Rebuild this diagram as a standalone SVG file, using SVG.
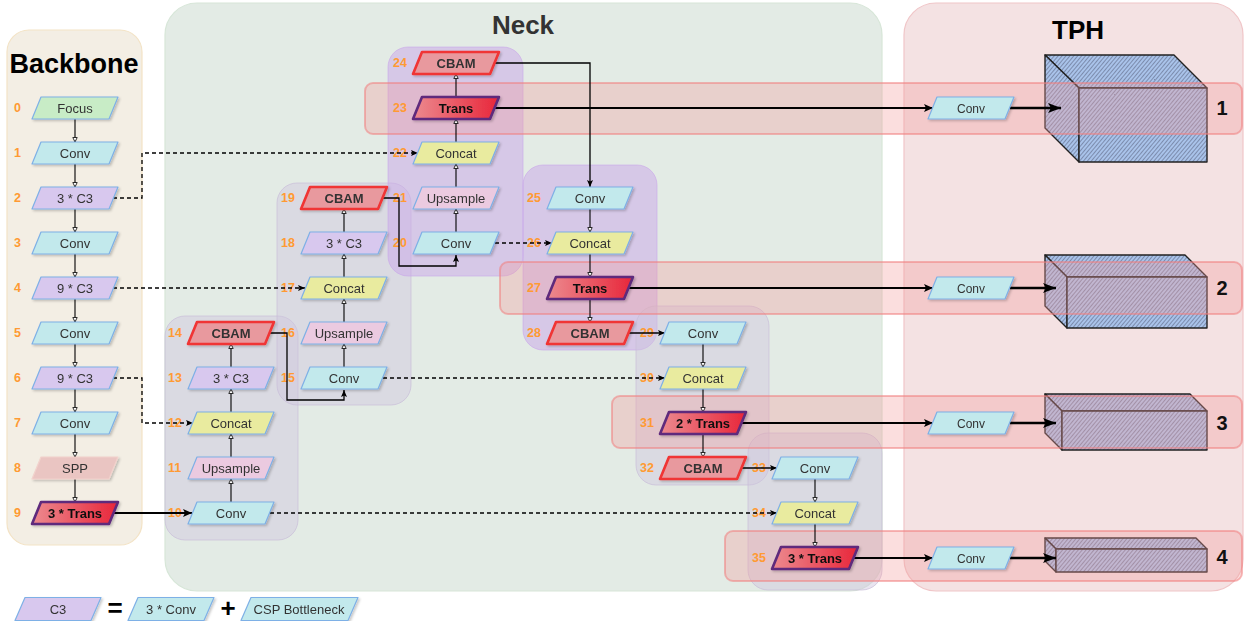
<svg xmlns="http://www.w3.org/2000/svg" xmlns:xlink="http://www.w3.org/1999/xlink" width="1244" height="621" viewBox="0 0 1244 621">
<defs>
<style>
text{font-family:"Liberation Sans",Arial,sans-serif}
.t{font-size:13px;fill:#333;text-anchor:middle}
.ts{font-size:12px;fill:#333;text-anchor:middle}
.tb{font-size:13px;font-weight:bold;fill:#333;text-anchor:middle}
.tt{font-size:13px;font-weight:bold;fill:#111;text-anchor:middle}
.num{font-size:12.5px;font-weight:bold;fill:#ff9a33}
.title{font-weight:bold;text-anchor:middle}
.hd{font-size:20px;font-weight:bold;fill:#111;text-anchor:middle}
.nd{filter:url(#sh)}
.conv{fill:#c2e9ec;stroke:#7eb0e6;stroke-width:1.2}
.cat{fill:#e9eb9f;stroke:#7eb0e6;stroke-width:1.2}
.c3{fill:#d8c8ee;stroke:#7eb0e6;stroke-width:1.2}
.up{fill:#ebcae0;stroke:#7eb0e6;stroke-width:1.2}
.focus{fill:#c8ecc6;stroke:#7eb0e6;stroke-width:1.2}
.spp{fill:#eac5c2;stroke:#f2d2cc;stroke-width:1.2}
.cbam{fill:#e8999e;stroke:#f03434;stroke-width:2.6}
.trans{fill:url(#tg);stroke:#5e2a7c;stroke-width:2.6}
.ln{stroke:#000;stroke-width:1.1;fill:none;marker-end:url(#as)}
.lp{stroke:#000;stroke-width:1.3;fill:none;marker-end:url(#ad)}
.ds{stroke:#000;stroke-width:1.3;fill:none;stroke-dasharray:4 3;marker-end:url(#ad)}
.tk{stroke:#000;stroke-width:2;fill:none;marker-end:url(#ab)}
.tk2{stroke:#000;stroke-width:2.6;fill:none;marker-end:url(#ab2)}
.grp{fill:#cfc5dd;fill-opacity:.45;stroke:#c9bdd9;stroke-opacity:.7}
.pgrp{fill:#c9a6ea;fill-opacity:.5;stroke:#c9a6ea;stroke-opacity:.6}
.band{fill:#f29a9a;fill-opacity:.33;stroke:#f07f7f;stroke-opacity:.55;stroke-width:2}
.cube{fill:url(#hatch);stroke:#222;stroke-width:1.4;stroke-linejoin:round}
</style>
<path id="pg" d="M-34,-11 H43 L34,11 H-43 Z" stroke-linejoin="round"/>
<path id="pl" d="M-33,-11.5 H43 L33,11.5 H-43 Z" stroke-linejoin="round"/>
<path id="plw" d="M-48,-11.5 H59 L49,11.5 H-58 Z" stroke-linejoin="round"/>
<linearGradient id="tg" x1="0" x2="1" y1="0" y2="0"><stop offset="0" stop-color="#ec8a8f"/><stop offset="1" stop-color="#e8263a"/></linearGradient>
<pattern id="hatch" width="3" height="3" patternUnits="userSpaceOnUse" patternTransform="rotate(40)"><rect width="3" height="3" fill="#a9c3ea"/><line x1="0.5" y1="0" x2="0.5" y2="3" stroke="#66728f" stroke-width="0.9" stroke-opacity="0.75"/></pattern>
<filter id="sh" x="-10%" y="-20%" width="130%" height="160%"><feDropShadow dx="1.5" dy="1.5" stdDeviation="1" flood-color="#000" flood-opacity="0.22"/></filter>
<marker id="as" markerUnits="userSpaceOnUse" markerWidth="6" markerHeight="6" refX="5" refY="3" orient="auto"><path d="M0.5,0.8 L5,3 L0.5,5.2 Z" fill="#fff" stroke="#000" stroke-width="0.8"/></marker>
<marker id="ad" markerUnits="userSpaceOnUse" markerWidth="8" markerHeight="8" refX="7" refY="4" orient="auto"><path d="M0,1 L7,4 L0,7 L1.5,4 Z" fill="#000"/></marker>
<marker id="ab" markerUnits="userSpaceOnUse" markerWidth="10" markerHeight="10" refX="9" refY="5" orient="auto"><path d="M0,1 L9,5 L0,9 L2,5 Z" fill="#000"/></marker>
<marker id="ab2" markerUnits="userSpaceOnUse" markerWidth="14" markerHeight="12" refX="13" refY="6" orient="auto"><path d="M0,1 L13,6 L0,11 L3,6 Z" fill="#000"/></marker>
</defs>
<rect width="1244" height="621" fill="#fff"/>

<g id="panels">
<rect x="7" y="30" width="135" height="515" rx="22" fill="#f3eee4" stroke="#f3e3c6" stroke-width="1.2"/>
<rect x="165" y="3" width="717" height="588" rx="32" fill="#e3ebe5" stroke="#d7e6d8" stroke-width="1.2"/>
<rect x="904" y="3" width="339" height="588" rx="32" fill="#f4e2e3" stroke="#f0c6c8" stroke-width="1.2"/>
<text class="title" x="74" y="73" font-size="27" fill="#000">Backbone</text>
<text class="title" x="523" y="34" font-size="26" fill="#333">Neck</text>
<text class="title" x="1078" y="39" font-size="26" fill="#000">TPH</text>
</g>

<g id="groups">
<rect class="grp" x="165" y="316" width="133" height="224" rx="20"/>
<rect class="grp" x="277" y="183" width="134" height="222" rx="20"/>
<rect class="pgrp" x="388" y="47" width="135" height="229" rx="20"/>
<rect class="pgrp" x="523" y="165" width="134" height="185" rx="20"/>
<rect class="grp" x="636" y="306" width="133" height="179" rx="20"/>
<rect class="grp" x="748" y="433" width="134" height="157" rx="20"/>
</g>

<g id="cubes">
<g id="cube1"><polygon class="cube" points="1045,55 1174,55 1207,88 1079,88"/><polygon class="cube" points="1045,55 1079,88 1079,162 1045,128"/><rect class="cube" x="1079" y="88" width="128" height="74"/></g>
<g id="cube2"><polygon class="cube" points="1045,255 1185,255 1207,277 1067,277"/><polygon class="cube" points="1045,255 1067,277 1067,328 1045,306"/><rect class="cube" x="1067" y="277" width="140" height="51"/></g>
<g id="cube3"><polygon class="cube" points="1045,394 1190,394 1207,411 1062,411"/><polygon class="cube" points="1045,394 1062,411 1062,450 1045,433"/><rect class="cube" x="1062" y="411" width="145" height="39"/></g>
<g id="cube4"><polygon class="cube" points="1045,538 1196,538 1207,549 1056,549"/><polygon class="cube" points="1045,538 1056,549 1056,572 1045,561"/><rect class="cube" x="1056" y="549" width="151" height="23"/></g>
</g>

<g id="bands">
<rect class="band" x="365" y="83" width="877" height="51" rx="8"/>
<rect class="band" x="500" y="262" width="742" height="52" rx="8"/>
<rect class="band" x="612" y="396" width="630" height="52" rx="8"/>
<rect class="band" x="725" y="531" width="517" height="50" rx="8"/>
<text class="hd" x="1222" y="115">1</text>
<text class="hd" x="1222" y="295">2</text>
<text class="hd" x="1222" y="430">3</text>
<text class="hd" x="1222" y="564">4</text>
</g>

<g id="labels">
<text class="num" x="14" y="112">0</text>
<text class="num" x="14" y="157">1</text>
<text class="num" x="14" y="202">2</text>
<text class="num" x="14" y="247">3</text>
<text class="num" x="14" y="292">4</text>
<text class="num" x="14" y="337">5</text>
<text class="num" x="14" y="382">6</text>
<text class="num" x="14" y="427">7</text>
<text class="num" x="14" y="472">8</text>
<text class="num" x="14" y="517">9</text>
<text class="num" x="168" y="517">10</text>
<text class="num" x="168" y="472">11</text>
<text class="num" x="168" y="427">12</text>
<text class="num" x="168" y="382">13</text>
<text class="num" x="168" y="337">14</text>
<text class="num" x="281" y="382">15</text>
<text class="num" x="281" y="337">16</text>
<text class="num" x="281" y="292">17</text>
<text class="num" x="281" y="247">18</text>
<text class="num" x="281" y="202">19</text>
<text class="num" x="393" y="247">20</text>
<text class="num" x="393" y="202">21</text>
<text class="num" x="393" y="157">22</text>
<text class="num" x="393" y="112">23</text>
<text class="num" x="393" y="67">24</text>
<text class="num" x="527" y="202">25</text>
<text class="num" x="527" y="247">26</text>
<text class="num" x="527" y="292">27</text>
<text class="num" x="527" y="337">28</text>
<text class="num" x="640" y="337">29</text>
<text class="num" x="640" y="382">30</text>
<text class="num" x="640" y="427">31</text>
<text class="num" x="640" y="472">32</text>
<text class="num" x="752" y="472">33</text>
<text class="num" x="752" y="517">34</text>
<text class="num" x="752" y="562">35</text>
</g>

<g id="connectors">
<path class="ln" d="M75,119 V142"/>
<path class="ln" d="M75,164 V187"/>
<path class="ln" d="M75,209 V232"/>
<path class="ln" d="M75,254 V277"/>
<path class="ln" d="M75,299 V322"/>
<path class="ln" d="M75,344 V367"/>
<path class="ln" d="M75,389 V412"/>
<path class="ln" d="M75,434 V457"/>
<path class="ln" d="M75,479 V502"/>
<path class="tk" d="M112,513 H192"/>
<path class="ln" d="M231,502 V479"/>
<path class="ln" d="M231,457 V434"/>
<path class="ln" d="M231,412 V389"/>
<path class="ln" d="M231,367 V344"/>
<path class="ds" d="M113,378 H142 V423 H193"/>
<path class="lp" d="M270,333 H287 V400 H344 V390"/>
<path class="ln" d="M344,367 V344"/>
<path class="ln" d="M344,322 V299"/>
<path class="ln" d="M344,277 V254"/>
<path class="ln" d="M344,232 V209"/>
<path class="ds" d="M113,288 H305"/>
<path class="ds" d="M383,378 H665"/>
<path class="lp" d="M383,198 H399 V266 H456 V255"/>
<path class="ln" d="M456,232 V209"/>
<path class="ln" d="M456,187 V164"/>
<path class="ln" d="M456,142 V119"/>
<path class="ln" d="M456,97 V74"/>
<path class="ds" d="M113,198 H142 V153 H418"/>
<path class="ds" d="M495,243 H552"/>
<path class="lp" d="M495,63 H590 V187"/>
<path class="ln" d="M590,209 V232"/>
<path class="ln" d="M590,254 V277"/>
<path class="ln" d="M590,299 V322"/>
<path class="tk" d="M495,108 H933"/>
<path class="tk" d="M629,288 H933"/>
<path class="lp" d="M629,333 H665"/>
<path class="ln" d="M703,344 V367"/>
<path class="ln" d="M703,389 V412"/>
<path class="ln" d="M703,434 V457"/>
<path class="tk" d="M742,423 H933"/>
<path class="lp" d="M742,468 H777"/>
<path class="ds" d="M270,513 H777"/>
<path class="ln" d="M815,479 V502"/>
<path class="ln" d="M815,524 V547"/>
<path class="tk" d="M854,558 H933"/>
<path class="tk2" d="M1010,108 H1061"/>
<path class="tk2" d="M1010,288 H1056"/>
<path class="tk2" d="M1010,423 H1056"/>
<path class="tk2" d="M1010,558 H1056"/>
</g>

<g id="n0" class="nd" transform="translate(75,108)"><use href="#pg" class="focus"/><text class="t" y="4.5">Focus</text></g>
<g id="n1" class="nd" transform="translate(75,153)"><use href="#pg" class="conv"/><text class="t" y="4.5">Conv</text></g>
<g id="n2" class="nd" transform="translate(75,198)"><use href="#pg" class="c3"/><text class="t" y="4.5">3 * C3</text></g>
<g id="n3" class="nd" transform="translate(75,243)"><use href="#pg" class="conv"/><text class="t" y="4.5">Conv</text></g>
<g id="n4" class="nd" transform="translate(75,288)"><use href="#pg" class="c3"/><text class="t" y="4.5">9 * C3</text></g>
<g id="n5" class="nd" transform="translate(75,333)"><use href="#pg" class="conv"/><text class="t" y="4.5">Conv</text></g>
<g id="n6" class="nd" transform="translate(75,378)"><use href="#pg" class="c3"/><text class="t" y="4.5">9 * C3</text></g>
<g id="n7" class="nd" transform="translate(75,423)"><use href="#pg" class="conv"/><text class="t" y="4.5">Conv</text></g>
<g id="n8" class="nd" transform="translate(75,468)"><use href="#pg" class="spp"/><text class="t" y="4.5">SPP</text></g>
<g id="n9" class="nd" transform="translate(75,513)"><use href="#pg" class="trans"/><text class="tt" y="4.5">3 * Trans</text></g>

<g id="n10" class="nd" transform="translate(231,513)"><use href="#pg" class="conv"/><text class="t" y="4.5">Conv</text></g>
<g id="n11" class="nd" transform="translate(231,468)"><use href="#pg" class="up"/><text class="t" y="4.5">Upsample</text></g>
<g id="n12" class="nd" transform="translate(231,423)"><use href="#pg" class="cat"/><text class="t" y="4.5">Concat</text></g>
<g id="n13" class="nd" transform="translate(231,378)"><use href="#pg" class="c3"/><text class="t" y="4.5">3 * C3</text></g>
<g id="n14" class="nd" transform="translate(231,333)"><use href="#pg" class="cbam"/><text class="tb" y="4.5">CBAM</text></g>

<g id="n15" class="nd" transform="translate(344,378)"><use href="#pg" class="conv"/><text class="t" y="4.5">Conv</text></g>
<g id="n16" class="nd" transform="translate(344,333)"><use href="#pg" class="up"/><text class="t" y="4.5">Upsample</text></g>
<g id="n17" class="nd" transform="translate(344,288)"><use href="#pg" class="cat"/><text class="t" y="4.5">Concat</text></g>
<g id="n18" class="nd" transform="translate(344,243)"><use href="#pg" class="c3"/><text class="t" y="4.5">3 * C3</text></g>
<g id="n19" class="nd" transform="translate(344,198)"><use href="#pg" class="cbam"/><text class="tb" y="4.5">CBAM</text></g>

<g id="n20" class="nd" transform="translate(456,243)"><use href="#pg" class="conv"/><text class="t" y="4.5">Conv</text></g>
<g id="n21" class="nd" transform="translate(456,198)"><use href="#pg" class="up"/><text class="t" y="4.5">Upsample</text></g>
<g id="n22" class="nd" transform="translate(456,153)"><use href="#pg" class="cat"/><text class="t" y="4.5">Concat</text></g>
<g id="n23" class="nd" transform="translate(456,108)"><use href="#pg" class="trans"/><text class="tt" y="4.5">Trans</text></g>
<g id="n24" class="nd" transform="translate(456,63)"><use href="#pg" class="cbam"/><text class="tb" y="4.5">CBAM</text></g>

<g id="n25" class="nd" transform="translate(590,198)"><use href="#pg" class="conv"/><text class="t" y="4.5">Conv</text></g>
<g id="n26" class="nd" transform="translate(590,243)"><use href="#pg" class="cat"/><text class="t" y="4.5">Concat</text></g>
<g id="n27" class="nd" transform="translate(590,288)"><use href="#pg" class="trans"/><text class="tt" y="4.5">Trans</text></g>
<g id="n28" class="nd" transform="translate(590,333)"><use href="#pg" class="cbam"/><text class="tb" y="4.5">CBAM</text></g>

<g id="n29" class="nd" transform="translate(703,333)"><use href="#pg" class="conv"/><text class="t" y="4.5">Conv</text></g>
<g id="n30" class="nd" transform="translate(703,378)"><use href="#pg" class="cat"/><text class="t" y="4.5">Concat</text></g>
<g id="n31" class="nd" transform="translate(703,423)"><use href="#pg" class="trans"/><text class="tt" y="4.5">2 * Trans</text></g>
<g id="n32" class="nd" transform="translate(703,468)"><use href="#pg" class="cbam"/><text class="tb" y="4.5">CBAM</text></g>

<g id="n33" class="nd" transform="translate(815,468)"><use href="#pg" class="conv"/><text class="t" y="4.5">Conv</text></g>
<g id="n34" class="nd" transform="translate(815,513)"><use href="#pg" class="cat"/><text class="t" y="4.5">Concat</text></g>
<g id="n35" class="nd" transform="translate(815,558)"><use href="#pg" class="trans"/><text class="tt" y="4.5">3 * Trans</text></g>

<g id="h1" class="nd" transform="translate(971,108)"><use href="#pg" class="conv"/><text class="ts" y="4.5">Conv</text></g>
<g id="h2" class="nd" transform="translate(971,288)"><use href="#pg" class="conv"/><text class="ts" y="4.5">Conv</text></g>
<g id="h3" class="nd" transform="translate(971,423)"><use href="#pg" class="conv"/><text class="ts" y="4.5">Conv</text></g>
<g id="h4" class="nd" transform="translate(971,558)"><use href="#pg" class="conv"/><text class="ts" y="4.5">Conv</text></g>

<g id="legend">
<g class="nd" transform="translate(58,609)"><use href="#pl" class="c3"/><text class="t" y="4.5">C3</text></g>
<text x="115" y="617" font-size="26" font-weight="bold" text-anchor="middle" fill="#000">=</text>
<g class="nd" transform="translate(171,609)"><use href="#pl" class="conv"/><text class="t" y="4.5">3 * Conv</text></g>
<text x="228" y="617" font-size="26" font-weight="bold" text-anchor="middle" fill="#000">+</text>
<g class="nd" transform="translate(299,609)"><use href="#plw" class="conv"/><text class="t" y="4.5">CSP Bottleneck</text></g>
</g>
</svg>
